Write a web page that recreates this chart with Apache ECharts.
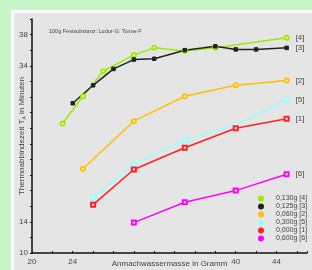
<!DOCTYPE html>
<html>
<head>
<meta charset="utf-8">
<script src="https://cdn.jsdelivr.net/npm/echarts@6/dist/echarts.min.js"></script>
<style>
  html, body { margin: 0; padding: 0; background: #c8f5c8; }
  #chart { width: 312px; height: 270px; }
</style>
</head>
<body>
<div id="chart"></div>
<script>
// Daten (x: Anmachwassermasse in g, y: Thermoabbindezeit in min)
const names = ['0,130g [4]', '0,125g [3]', '0,060g [2]', '0,300g [5]', '0,000g [1]', '0,600g [6]'];
const endTags = ['[4]', '[3]', '[2]', '[5]', '[1]', '[6]'];
const colors = ['#99ee00', '#222222', '#ffc000', '#99ffff', '#ff2020', '#ff00ff'];
const symbols = ['emptyCircle', 'rect', 'emptyCircle', 'emptyCircle', 'emptyRect', 'emptyRect'];

const s4 = [[23, 26.6], [25, 30.1], [27, 33.3], [30, 35.4], [32, 36.3], [35, 35.9], [38, 36.3], [45, 37.6]];
const s3 = [[24, 29.2], [26, 31.5], [28, 33.6], [30, 34.8], [32, 34.9], [35, 36.0], [38, 36.5], [40, 36.1], [42, 36.1], [45, 36.3]];
const s2 = [[25, 20.8], [30, 26.9], [35, 30.1], [40, 31.5], [45, 32.1]];
const s5 = [[26, 17.1], [30, 21.4], [35, 24.5], [40, 26.4], [45, 29.7]];
const s1 = [[26, 16.2], [30, 20.7], [35, 23.5], [40, 26.0], [45, 27.2]];
const s6 = [[30, 13.9], [35, 16.5], [40, 18.0], [45, 20.1]];
const allData = [s4, s3, s2, s5, s1, s6];

const xLabels = [20, 24, 40, 44];
const yLabels = [10, 14, 34, 38];

const chart = echarts.init(document.getElementById('chart'));

const series = allData.map((d, i) => ({
  name: names[i],
  type: 'line',
  data: d,
  symbol: symbols[i],
  symbolSize: i === 1 ? 3.5 : 4,
  color: colors[i],
  lineStyle: { width: 1.5, color: colors[i] },
  itemStyle: { color: colors[i], borderColor: colors[i], borderWidth: 1 },
  endLabel: {
    show: true,
    formatter: endTags[i],
    distance: 9,
    fontSize: 8,
    color: '#444',
    fontFamily: 'Liberation Sans'
  },
  animation: false
}));

const option = {
  backgroundColor: '#c8f5c8',
  animation: false,
  graphic: [
    { type: 'rect', z: -10, shape: { x: 11, y: 10, width: 301, height: 260 }, style: { fill: '#ffffff' } },
    { type: 'rect', z: -9, shape: { x: 14, y: 13, width: 298, height: 257 }, style: { fill: '#e5e5e5' } }
  ],
  title: {
    text: '100g Festsubstanz: Ludur-G: Tonne F',
    left: 44,
    top: 23,
    textStyle: { fontSize: 5.5, fontWeight: 'normal', color: '#444', fontFamily: 'Liberation Sans' }
  },
  grid: { left: 32, top: 19, right: 5, bottom: 17, outerBoundsMode: 'none' },
  legend: {
    orient: 'vertical',
    left: 258,
    top: 195,
    itemWidth: 8,
    itemHeight: 4,
    itemGap: 1,
    padding: 0,
    textStyle: { fontSize: 7, lineHeight: 7, color: '#444', fontFamily: 'Liberation Sans', padding: [0, 0, 0, 6] },
    data: names.map(n => ({ name: n, icon: 'circle' }))
  },
  xAxis: {
    type: 'value',
    min: 20,
    max: 47,
    interval: 4,
    name: 'Anmachwassermasse in Gramm',
    nameLocation: 'middle',
    nameGap: 7,
    nameMoveOverlap: false,
    nameTextStyle: { fontSize: 8, color: '#444', fontFamily: 'Liberation Sans' },
    axisLine: { lineStyle: { color: '#111', width: 1.5 } },
    axisTick: { show: true, inside: true, length: 2, lineStyle: { color: '#111' } },
    minorTick: { show: true, splitNumber: 2, length: 2, lineStyle: { color: '#111' } },
    splitLine: { show: false },
    axisLabel: {
      fontSize: 8,
      color: '#444',
      margin: 5,
      fontFamily: 'Liberation Sans',
      formatter: v => (xLabels.includes(v) ? String(v) : '')
    }
  },
  yAxis: {
    type: 'value',
    min: 10,
    max: 40,
    interval: 4,
    name: 'Thermoabbindezeit T{sub|A} in Minuten',
    nameLocation: 'middle',
    nameGap: 5,
    nameMoveOverlap: false,
    nameTextStyle: {
      fontSize: 8,
      color: '#444',
      fontFamily: 'Liberation Sans',
      rich: { sub: { fontSize: 5, color: '#444', padding: [6, 0, 0, 0] } }
    },
    axisLine: { show: true, lineStyle: { color: '#111', width: 1.5 } },
    axisTick: { show: true, length: 2, lineStyle: { color: '#111' } },
    minorTick: { show: true, splitNumber: 2, length: 2, lineStyle: { color: '#111' } },
    splitLine: { show: false },
    axisLabel: {
      fontSize: 8,
      color: '#444',
      margin: 4,
      fontFamily: 'Liberation Sans',
      formatter: v => (yLabels.includes(v) ? String(v) : '')
    }
  },
  series: series
};

chart.setOption(option);
</script>
</body>
</html>
